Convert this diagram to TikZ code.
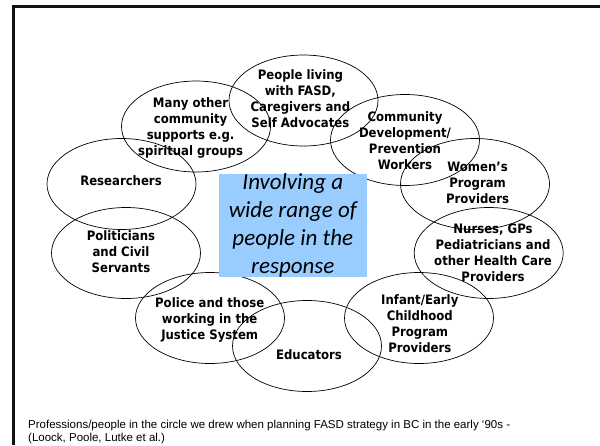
\documentclass[tikz,border=0pt]{standalone}
\usepackage{fontspec}
\setmainfont{Liberation Sans}
\newfontfamily\grouplabelfont{DejaVu Sans Condensed Bold}
\newfontfamily\themefont{Carlito}
\usetikzlibrary{shapes.geometric}
\definecolor{themeblue}{RGB}{153,204,255}
\definecolor{frameink}{RGB}{17,17,17}
\begin{document}
\begin{tikzpicture}[x=1pt,y=-1pt,
  group/.style={draw=black, line width=0.7pt, ellipse, minimum width=149pt,
    minimum height=91pt, inner sep=0pt},
  grouptext/.style={font=\grouplabelfont\fontsize{13}{16}\selectfont,
    align=center, inner sep=0pt},
  theme/.style={fill=themeblue, minimum width=147.7pt, minimum height=103.5pt,
    inner sep=0pt, align=center,
    font=\themefont\itshape\fontsize{23}{27.8}\selectfont},
  caption/.style={font=\fontsize{11.5}{13.4}\selectfont, align=left,
    inner sep=0pt, anchor=west}]
\useasboundingbox (0,0) rectangle (600,445);

% slide frame (cropped at the right and bottom)
\draw[frameink, line width=2.7pt] (13.5,445) -- (13.5,6.2) -- (600,6.2);

% the circle of groups
\node[group] (people)      at (303.5,100.5) {};
\node[group] (community)   at (196,126.5)   {};
\node[group] (development) at (405,140)     {};
\node[group] (women)       at (475,184)     {};
\node[group] (researchers) at (121.5,184)   {};
\node[group] (politicians) at (126,253)     {};
\node[group] (nurses)      at (488.7,253)   {};
\node[group] (police)      at (210,318)     {};
\node[group] (infant)      at (419,318)     {};
\node[group] (educators)   at (307,346)     {};

\node[grouptext] (peopleT)      at (300.4,99)    {People living\\with FASD,\\Caregivers and\\Self Advocates};
\node[grouptext] (communityT)   at (190.6,128.3) {Many other\\community\\supports e.g.\\spiritual groups};
\node[grouptext] (developmentT) at (405,141)     {Community\\Development/\\Prevention\\Workers};
\node[grouptext] (womenT)       at (477.6,183)   {Women’s\\Program\\Providers};
\node[grouptext] (researchersT) at (121,180.3)   {Researchers};
\node[grouptext] (politiciansT) at (121,252)     {Politicians\\and Civil\\Servants};
\node[grouptext] (nursesT)      at (493,252.5)   {Nurses, GPs\\Pediatricians and\\other Health Care\\Providers};
\node[grouptext] (policeT)      at (209.7,320)   {Police and those\\working in the\\Justice System};
\node[grouptext] (infantT)      at (419.8,323.5) {Infant/Early\\Childhood\\Program\\Providers};
\node[grouptext] (educatorsT)   at (309,354.3)   {Educators};

% central theme
\node[theme] (centre) at (292.8,225.3) {Involving a\\wide range of\\people in the\\response};

% source note
\node[caption] (source) at (28,432.1) {Professions/people in the circle we drew when planning FASD strategy in BC in the early ‘90s -\\(Loock, Poole, Lutke et al.)};
\end{tikzpicture}
\end{document}
